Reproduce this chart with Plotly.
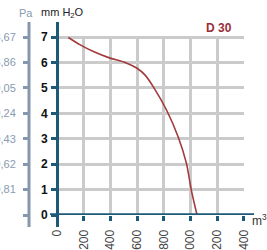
import plotly.graph_objects as go

# Data
flow_m3h = [85, 174, 273, 398, 510, 597, 659, 721, 821, 908, 970, 1007, 1050]
pressure_mmh2o = [6.98, 6.69, 6.43, 6.17, 6.0, 5.78, 5.51, 5.05, 4.13, 3.08, 2.04, 0.98, 0.0]
x_ticks = [0, 200, 400, 600, 800, 1000, 1200, 1400]
y_ticks = [0, 1, 2, 3, 4, 5, 6, 7]
pa_labels = ["", "9,81", "19,62", "29,43", "39,24", "49,05", "58,86", "68,67"]
title_text = "D 30"

W, H = 267, 250
L, R, T, B = 29, 23, 36, 35
pw = W - L - R
ph = H - T - B
x0_px = 57
dom0 = (x0_px - L) / pw

def px_x(p):
    return (p - L) / pw

def px_y(p):
    return (H - B - p) / ph

TEAL = "#1d5a78"
PAGRAY = "#8497ad"
RED = "#a23a3c"
FONT = "Arial, Liberation Sans, sans-serif"

fig = go.Figure()
fig.add_trace(go.Scatter(
    x=flow_m3h, y=pressure_mmh2o, mode="lines",
    line=dict(color=RED, width=1.6, shape="spline", smoothing=0.8),
    hoverinfo="skip", showlegend=False,
))
# dummy trace for the Pa axis
fig.add_trace(go.Scatter(x=[None], y=[None], yaxis="y2", showlegend=False))

def ann(text, xp, yp, size, color):
    return dict(text=text, xref="paper", yref="paper", x=px_x(xp), y=px_y(yp),
                xanchor="center", yanchor="middle", showarrow=False,
                font=dict(size=size, color=color, family=FONT))

fig.update_layout(
    width=W, height=H,
    margin=dict(l=L, r=R, t=T, b=B, autoexpand=False),
    paper_bgcolor="white", plot_bgcolor="white",
    font=dict(family=FONT),
    xaxis=dict(
        domain=[dom0, 1], range=[0, 1402], automargin=False,
        tickvals=x_ticks, ticktext=[str(v) for v in x_ticks],
        tickangle=-90, ticks="outside", ticklen=5, tickwidth=3, tickcolor=TEAL,
        tickfont=dict(size=12, color="#444444", family=FONT),
        showgrid=True, gridcolor="#cbcbcb", gridwidth=2.5,
        showline=False, zeroline=False, ticklabelstandoff=4,
    ),
    yaxis=dict(
        range=[0, 7.04], tickvals=y_ticks, automargin=False,
        ticks="outside", ticklen=5, tickwidth=3, tickcolor=TEAL,
        tickfont=dict(size=12, color="#111111", family=FONT, weight="bold"),
        showgrid=True, gridcolor="#cbcbcb", gridwidth=2.5,
        showline=False, zeroline=False, ticklabelstandoff=1,
    ),
    yaxis2=dict(
        overlaying="y", anchor="free", position=0, side="left", automargin=False,
        range=[0, 7.04], tickvals=y_ticks, ticktext=pa_labels,
        ticks="outside", ticklen=6, tickwidth=3, tickcolor=PAGRAY,
        tickfont=dict(size=11, color="#8a9aae", family=FONT),
        showgrid=False, showline=False, zeroline=False, ticklabelstandoff=5,
    ),
    shapes=[
        dict(type="line", xref="paper", yref="y", x0=px_x(50), x1=px_x(254), y0=0, y1=0,
             line=dict(color=TEAL, width=3.5), layer="above"),
        dict(type="line", xref="paper", yref="paper", x0=px_x(57.5), x1=px_x(57.5),
             y0=px_y(227), y1=px_y(22), line=dict(color=TEAL, width=3), layer="above"),
        dict(type="line", xref="paper", yref="paper", x0=0, x1=0,
             y0=px_y(227), y1=px_y(22), line=dict(color=PAGRAY, width=3), layer="above"),
    ],
    annotations=[
        ann("Pa", 26, 13, 11, "#8a9aae"),
        ann("mm H<sub>2</sub>O", 62, 13, 11, "#222222"),
        ann("<b>" + title_text + "</b>", 219, 28, 12, "#9b2d3a"),
        ann("m<sup>3</sup>", 259, 220, 12, "#333333"),
    ],
)

fig.write_html("out.html", config={"displayModeBar": False},
               post_script="document.body.style.margin='0';")
